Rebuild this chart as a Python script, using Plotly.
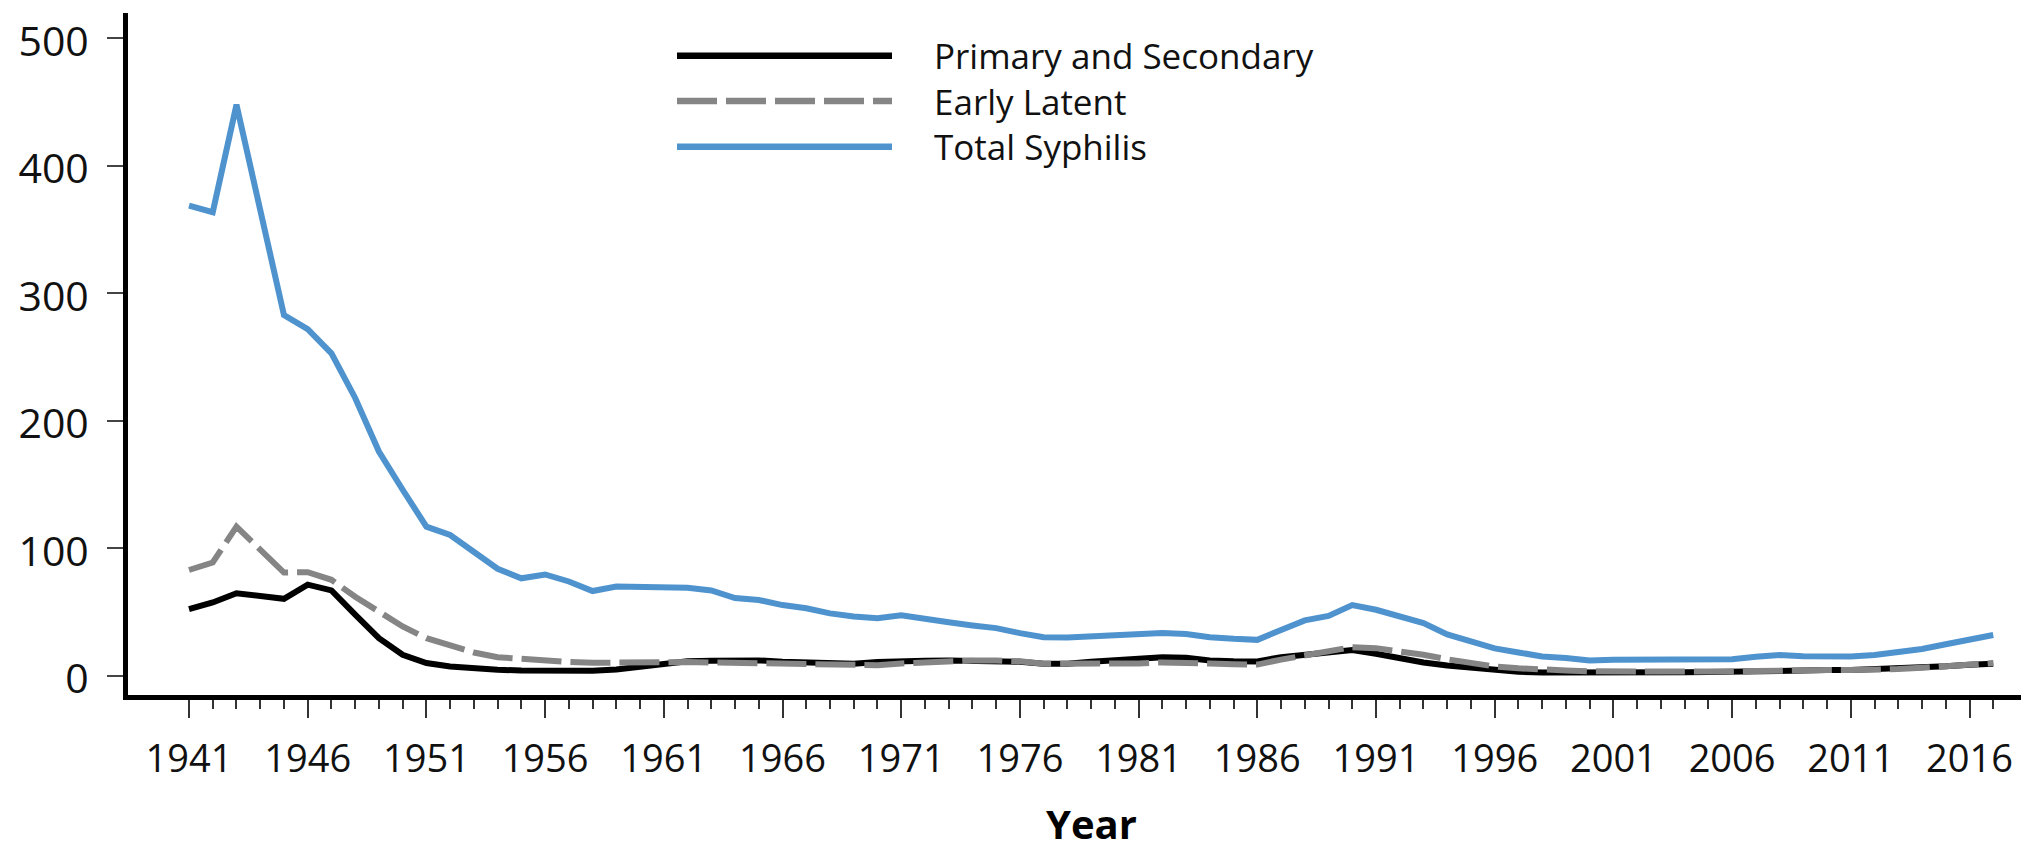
import plotly.graph_objects as go

years = list(range(1941, 2018))

primary_secondary = [
    52.3, 57.5, 64.8, 62.2, 60.4, 71.5, 67.0, 48.0, 29.5, 16.5,
    10.0, 7.3, 5.8, 4.8, 4.1, 3.9, 3.8, 4.0, 5.0, 7.1,
    10.0, 11.5, 11.8, 12.2, 12.1, 11.0, 10.5, 9.6, 9.5, 10.8,
    11.8, 11.9, 12.1, 11.9, 12.0, 11.1, 9.4, 9.5, 11.0, 12.1,
    13.7, 14.6, 14.1, 12.0, 11.4, 11.3, 14.6, 16.4, 18.4, 20.3,
    17.3, 13.7, 10.4, 8.1, 6.3, 4.3, 3.2, 2.6, 2.5, 2.1,
    2.1, 2.4, 2.5, 2.7, 2.9, 3.3, 3.8, 4.5, 4.6, 4.5,
    4.5, 5.0, 5.5, 6.3, 7.5, 8.7, 9.5,
]

early_latent = [
    83.0, 88.9, 117.0, 98.8, 81.0, 81.3, 75.3, 62.0, 50.5, 38.7,
    29.5, 24.3, 18.3, 14.6, 13.0, 11.9, 10.8, 10.2, 10.0, 10.2,
    10.6, 10.8, 10.5, 10.0, 9.8, 9.2, 8.7, 8.3, 8.2, 8.3,
    9.7, 10.6, 11.6, 12.0, 12.0, 11.4, 9.4, 9.4, 9.5, 9.0,
    9.7, 10.5, 10.6, 9.7, 9.1, 8.8, 12.7, 15.8, 18.8, 22.5,
    21.7, 19.3, 16.5, 13.0, 10.1, 7.3, 5.9, 4.7, 4.2, 3.5,
    3.3, 3.3, 3.3, 3.3, 3.2, 3.4, 3.7, 4.2, 4.1, 4.5,
    4.5, 4.7, 5.3, 6.3, 7.2, 8.3, 10.0,
]

total_syphilis = [
    368.9, 363.7, 448.0, 367.0, 283.0, 272.0, 253.0, 218.0, 176.0, 146.0,
    117.0, 110.5, 97.0, 84.0, 76.5, 79.5, 74.0, 66.5, 70.0, 69.5,
    69.3, 69.0, 67.0, 61.0, 59.5, 55.5, 53.0, 49.0, 46.5, 45.2,
    47.5, 44.4, 42.0, 39.5, 37.4, 33.5, 30.3, 30.0, 30.8, 31.0,
    32.5, 33.5, 32.8, 30.3, 29.0, 28.2, 36.0, 43.5, 47.0, 55.5,
    51.8, 46.5, 41.3, 32.5, 27.0, 21.5, 18.3, 15.2, 13.9, 12.0,
    12.5, 12.5, 12.6, 12.2, 11.9, 13.0, 15.0, 16.3, 15.4, 15.2,
    15.2, 16.3, 18.5, 21.0, 24.8, 28.5, 32.0,
]

series_names = ["Primary and Secondary", "Early Latent", "Total Syphilis"]
y_tick_values = [0, 100, 200, 300, 400, 500]
x_major_ticks = list(range(1941, 2018, 5))
x_title = "Year"

BLUE = "#4F93CE"
GRAY = "#858585"
BLACK = "#000000"
FONT = "Open Sans"

# page body has an 8px margin: figure is drawn offset by (8, 8) in the window
OFF = 8
WIN_W, WIN_H = 2029, 851
W, H = WIN_W - OFF, WIN_H - OFF

# plot area in window pixels
PL_WIN, PT_WIN, PB_WIN = 128.0, 13.0, 695.2
L = PL_WIN - OFF
T = PT_WIN - OFF
B = WIN_H - PB_WIN
R = 0
PW = W - L - R
PH = PB_WIN - PT_WIN


def px(xp):
    return (xp - PL_WIN) / PW


def py(yp):
    return (PB_WIN - yp) / PH


fig = go.Figure()
fig.add_trace(go.Scatter(x=years, y=primary_secondary, mode="lines",
                         name=series_names[0], line=dict(color=BLACK, width=6),
                         showlegend=False))
fig.add_trace(go.Scatter(x=years, y=early_latent, mode="lines",
                         name=series_names[1],
                         line=dict(color=GRAY, width=6, dash="40px,9px"),
                         showlegend=False))
fig.add_trace(go.Scatter(x=years, y=total_syphilis, mode="lines",
                         name=series_names[2], line=dict(color=BLUE, width=6),
                         showlegend=False))

# manual legend (long sample lines as in the reference)
legend_rows = [(55.7, BLACK, "solid"), (101.0, GRAY, "40px,9px"), (146.7, BLUE, "solid")]
for (yy, col, dash) in legend_rows:
    fig.add_shape(type="line", xref="paper", yref="paper",
                  x0=px(677), x1=px(892), y0=py(yy), y1=py(yy),
                  line=dict(color=col, width=6.5, dash=dash))
# one multi-line text block: plotly's 1.3em line spacing matches the row pitch
fig.add_annotation(text="<br>".join(series_names), xref="paper", yref="paper",
                   x=px(932), y=py(101.0), xanchor="left", yanchor="middle",
                   align="left", showarrow=False,
                   font=dict(family=FONT, size=35, color="#111"))

fig.add_annotation(text="<b>" + x_title + "</b>", xref="paper", yref="paper",
                   x=px(1091), y=py(823.5), xanchor="center", yanchor="middle",
                   showarrow=False, font=dict(family=FONT, size=40, color="#000"))

PX_PER_YEAR = 23.74
x0 = 1941 - (189 - PL_WIN) / PX_PER_YEAR
x1 = x0 + PW / PX_PER_YEAR
y_per = 1.275
ylo = (676 - PB_WIN) / y_per
yhi = (676 - PT_WIN) / y_per

fig.update_xaxes(range=[x0, x1], showgrid=False, zeroline=False, automargin=False,
                 showline=True, linewidth=5, linecolor=BLACK,
                 tickmode="array", tickvals=x_major_ticks,
                 ticktext=[str(v) for v in x_major_ticks],
                 ticks="outside", ticklen=18, tickwidth=2, tickcolor="#333",
                 ticklabelstandoff=8, tickangle=0,
                 tickfont=dict(family=FONT, size=38, color="#111"),
                 minor=dict(tickmode="array", tickvals=years, ticks="outside",
                            ticklen=9, tickwidth=2, tickcolor="#333", showgrid=False))
fig.update_yaxes(range=[ylo, yhi], showgrid=False, zeroline=False, automargin=False,
                 showline=True, linewidth=5, linecolor=BLACK,
                 tickmode="array", tickvals=y_tick_values,
                 ticks="outside", ticklen=16, tickwidth=2, tickcolor="#444",
                 ticklabelstandoff=10, ticklabelshift=3, ticklabeloverflow="allow",
                 tickfont=dict(family=FONT, size=41, color="#111"))

fig.update_layout(width=W, height=H, margin=dict(l=L, r=R, t=T, b=B),
                  plot_bgcolor="white", paper_bgcolor="white", showlegend=False)

fig.write_html("out.html")
